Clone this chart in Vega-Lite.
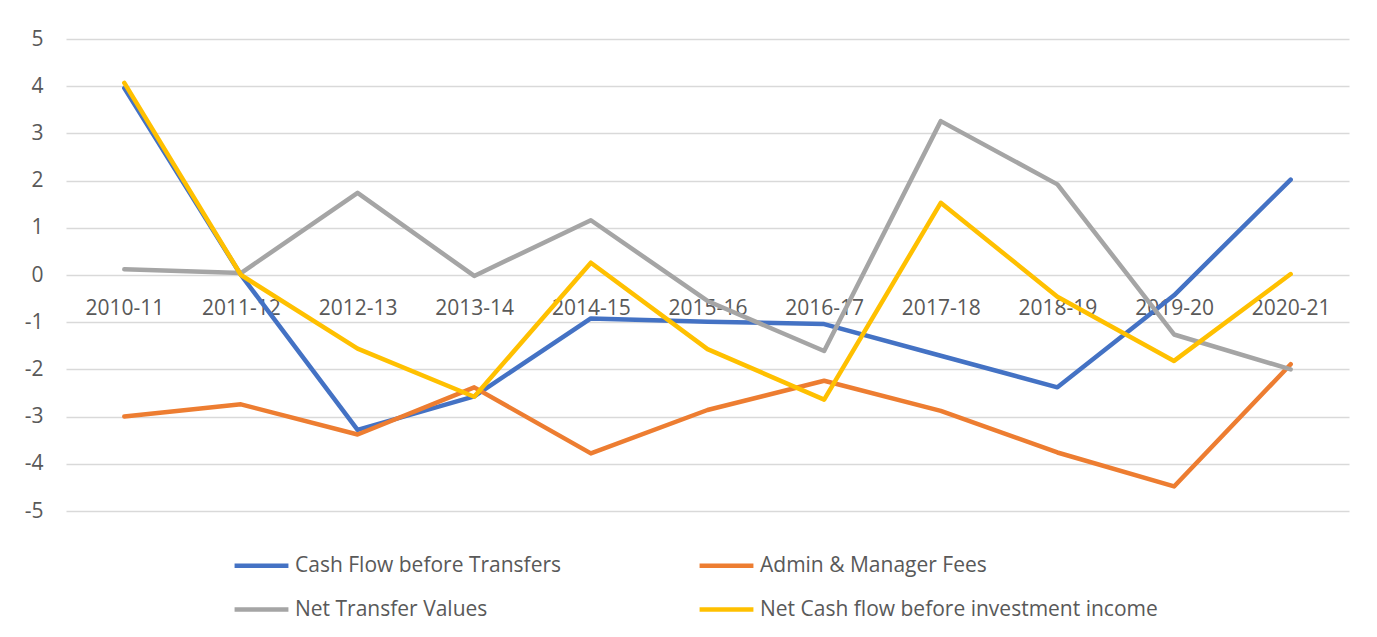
{
  "$schema": "https://vega.github.io/schema/vega-lite/v6.json",
  "autosize": {"type": "none"},
  "width": 1283,
  "height": 472,
  "padding": {"left": 66, "top": 39, "right": 28, "bottom": 126},
  "background": "white",
  "config": {
    "view": {"stroke": null},
    "font": "Open Sans",
    "axis": {"labelFont": "Open Sans", "labelColor": "#595959", "labelFontSize": 21},
    "legend": {"labelFont": "Open Sans", "labelColor": "#595959", "labelFontSize": 21}
  },
  "data": {
    "values": [
      {"year": "2010-11", "series": "Cash Flow before Transfers", "value": 3.96},
      {"year": "2011-12", "series": "Cash Flow before Transfers", "value": 0.0},
      {"year": "2012-13", "series": "Cash Flow before Transfers", "value": -3.28},
      {"year": "2013-14", "series": "Cash Flow before Transfers", "value": -2.57},
      {"year": "2014-15", "series": "Cash Flow before Transfers", "value": -0.92},
      {"year": "2015-16", "series": "Cash Flow before Transfers", "value": -0.99},
      {"year": "2016-17", "series": "Cash Flow before Transfers", "value": -1.04},
      {"year": "2017-18", "series": "Cash Flow before Transfers", "value": -1.71},
      {"year": "2018-19", "series": "Cash Flow before Transfers", "value": -2.38},
      {"year": "2019-20", "series": "Cash Flow before Transfers", "value": -0.43},
      {"year": "2020-21", "series": "Cash Flow before Transfers", "value": 2.02},
      {"year": "2010-11", "series": "Admin & Manager Fees", "value": -3.0},
      {"year": "2011-12", "series": "Admin & Manager Fees", "value": -2.74},
      {"year": "2012-13", "series": "Admin & Manager Fees", "value": -3.38},
      {"year": "2013-14", "series": "Admin & Manager Fees", "value": -2.38},
      {"year": "2014-15", "series": "Admin & Manager Fees", "value": -3.78},
      {"year": "2015-16", "series": "Admin & Manager Fees", "value": -2.86},
      {"year": "2016-17", "series": "Admin & Manager Fees", "value": -2.24},
      {"year": "2017-18", "series": "Admin & Manager Fees", "value": -2.88},
      {"year": "2018-19", "series": "Admin & Manager Fees", "value": -3.76},
      {"year": "2019-20", "series": "Admin & Manager Fees", "value": -4.48},
      {"year": "2020-21", "series": "Admin & Manager Fees", "value": -1.89},
      {"year": "2010-11", "series": "Net Transfer Values", "value": 0.12},
      {"year": "2011-12", "series": "Net Transfer Values", "value": 0.04},
      {"year": "2012-13", "series": "Net Transfer Values", "value": 1.74},
      {"year": "2013-14", "series": "Net Transfer Values", "value": -0.02},
      {"year": "2014-15", "series": "Net Transfer Values", "value": 1.16},
      {"year": "2015-16", "series": "Net Transfer Values", "value": -0.55},
      {"year": "2016-17", "series": "Net Transfer Values", "value": -1.61},
      {"year": "2017-18", "series": "Net Transfer Values", "value": 3.26},
      {"year": "2018-19", "series": "Net Transfer Values", "value": 1.92},
      {"year": "2019-20", "series": "Net Transfer Values", "value": -1.26},
      {"year": "2020-21", "series": "Net Transfer Values", "value": -2.0},
      {"year": "2010-11", "series": "Net Cash flow before investment income", "value": 4.07},
      {"year": "2011-12", "series": "Net Cash flow before investment income", "value": 0.0},
      {"year": "2012-13", "series": "Net Cash flow before investment income", "value": -1.56},
      {"year": "2013-14", "series": "Net Cash flow before investment income", "value": -2.58},
      {"year": "2014-15", "series": "Net Cash flow before investment income", "value": 0.26},
      {"year": "2015-16", "series": "Net Cash flow before investment income", "value": -1.57},
      {"year": "2016-17", "series": "Net Cash flow before investment income", "value": -2.64},
      {"year": "2017-18", "series": "Net Cash flow before investment income", "value": 1.53},
      {"year": "2018-19", "series": "Net Cash flow before investment income", "value": -0.46},
      {"year": "2019-20", "series": "Net Cash flow before investment income", "value": -1.82},
      {"year": "2020-21", "series": "Net Cash flow before investment income", "value": 0.02}
    ]
  },
  "mark": {"type": "line", "strokeWidth": 4.5, "strokeCap": "round", "strokeJoin": "round"},
  "encoding": {
    "x": {
      "field": "year", "type": "ordinal", "title": null,
      "scale": {"type": "point", "padding": 0.5},
      "axis": {"orient": "bottom", "offset": -236, "domain": false, "ticks": false, "labelAngle": 0, "labelPadding": 22, "grid": false}
    },
    "y": {
      "field": "value", "type": "quantitative", "title": null,
      "scale": {"domain": [-5, 5], "nice": false, "zero": false},
      "axis": {"values": [-5, -4, -3, -2, -1, 0, 1, 2, 3, 4, 5], "labelExpr": "toString(datum.value)", "domain": false, "ticks": false, "labelPadding": 23, "gridColor": "#D9D9D9", "gridWidth": 1.3}
    },
    "color": {
      "field": "series", "type": "nominal", "title": null,
      "scale": {
        "domain": ["Cash Flow before Transfers", "Admin & Manager Fees", "Net Transfer Values", "Net Cash flow before investment income"],
        "range": ["#4472C4", "#ED7D31", "#A5A5A5", "#FFC000"]
      },
      "legend": {
        "orient": "none", "legendX": 166, "legendY": 497, "direction": "horizontal", "columns": 2,
        "symbolType": "stroke", "symbolSize": 2900, "symbolStrokeWidth": 4.5,
        "labelOffset": 4, "columnPadding": 128, "rowPadding": 4, "labelLimit": 500
      }
    }
  }
}
